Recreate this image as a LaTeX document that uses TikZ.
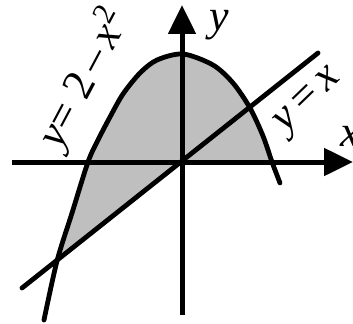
\documentclass[tikz,border=0pt]{standalone}
\usepackage{fontspec}
\setmainfont{Liberation Serif}
\usetikzlibrary{arrows.meta}
\begin{document}
\begin{tikzpicture}[x=0.1mm,y=0.1mm,
  curve/.style={line width=0.48mm, line cap=round, line join=round},
  axis/.style={line width=0.5mm, -{Triangle[length=2.9mm,width=2.7mm]}},
  lbl/.style={inner sep=0pt, font=\fontsize{12.5}{14}\selectfont}]
\useasboundingbox (0,0) rectangle (353,323);
\coordinate (O) at (182,161);
\coordinate (xs) at (12,161);
\coordinate (xe) at (353,161);
\coordinate (ys) at (182,8);
\coordinate (ye) at (182,318);
\coordinate (ls) at (22,35);
\coordinate (le) at (318,270);
\def\parab{(44,3) (57,62) (72,110) (88,161) (98,183) (110,206) (123,229) (140,250) (157,263) (183,269) (213,258) (233,240) (250,215) (263,187) (272,161) (280,140)}
% shaded region
\begin{scope}
  \clip (ls) -- (O) -- (353,161) -- (353,323) -- (0,323) -- (0,35) -- cycle;
  \fill[black!25] plot[smooth] coordinates {\parab} -- cycle;
\end{scope}
% curves
\draw[curve] plot[smooth] coordinates {\parab};
\draw[curve] (ls) -- (le);
% axes
\draw[axis] (xs) -- (xe);
\draw[axis] (ys) -- (ye);
% labels
\node[lbl] (ylab) at (219,298) {\textit{y}};
\node[lbl] (xlab) at (350,187) {\textit{x}};
\node[lbl, rotate=44] (lineLab) at (310,221) {\textit{y}\,=\,\textit{x}};
\node[lbl, rotate=62] (parLab) at (84,245) {\textit{y}= 2\,–\,\textit{x}\textsuperscript{2}};
\end{tikzpicture}
\end{document}
